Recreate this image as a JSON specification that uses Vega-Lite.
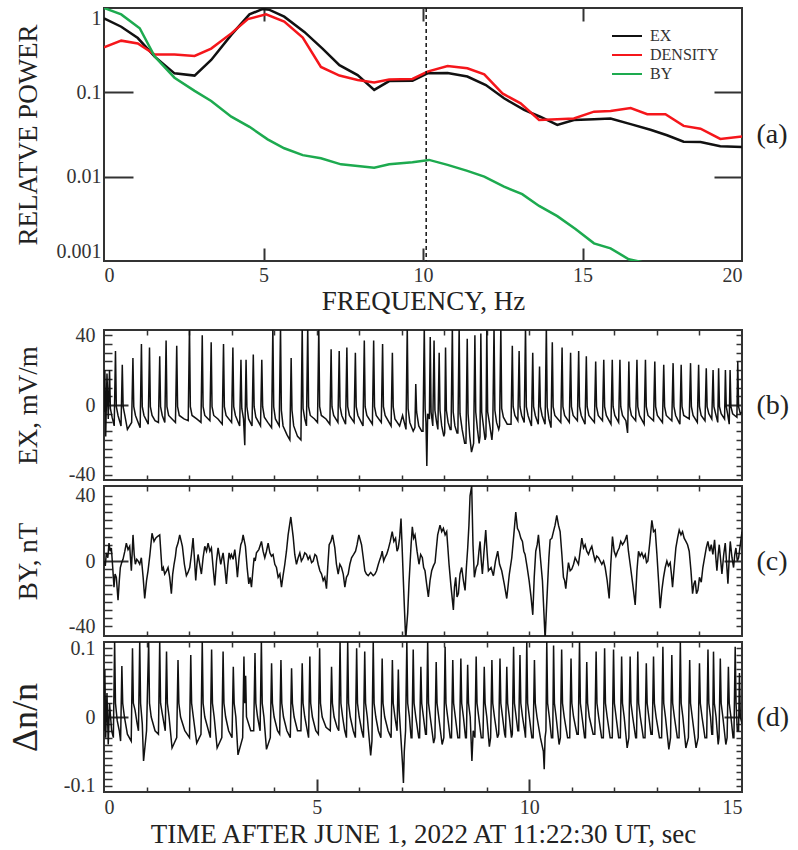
{
"$schema":"https://vega.github.io/schema/vega-lite/v6.json",
"background":"white",
"padding":{"left":6,"top":6,"right":0,"bottom":0},
"config":{
 "font":"Liberation Serif",
 "locale":{"number":{"decimal":".","thousands":",","grouping":[3],"currency":["$",""],"minus":"-"}},
 "view":{"stroke":"#333333","strokeWidth":2},
 "style":{"guide-label":{"font":"Liberation Serif"},"guide-title":{"font":"Liberation Serif"}},
 "axis":{"domain":false,"grid":false,"labelFont":"Liberation Serif","labelFontSize":20,"labelColor":"#333333","titleFont":"Liberation Serif","titleFontSize":27,"titleFontWeight":"normal","titleColor":"#222222","tickColor":"#333333","tickWidth":2},
 "legend":{"labelFont":"Liberation Serif","titleFont":"Liberation Serif"}
},
"datasets":{
"spec":[
{"f":0,"p":0.755,"s":"EX"},{"f":0.54,"p":0.6,"s":"EX"},{"f":1.06,"p":0.44,"s":"EX"},{"f":1.59,"p":0.265,"s":"EX"},{"f":2.21,"p":0.168,"s":"EX"},{"f":2.84,"p":0.158,"s":"EX"},{"f":3.36,"p":0.242,"s":"EX"},{"f":3.99,"p":0.48,"s":"EX"},{"f":4.56,"p":0.84,"s":"EX"},{"f":4.98,"p":0.975,"s":"EX"},{"f":5.19,"p":0.95,"s":"EX"},{"f":5.65,"p":0.79,"s":"EX"},{"f":6.28,"p":0.52,"s":"EX"},{"f":6.85,"p":0.33,"s":"EX"},{"f":7.38,"p":0.21,"s":"EX"},{"f":7.95,"p":0.16,"s":"EX"},{"f":8.47,"p":0.107,"s":"EX"},{"f":8.94,"p":0.136,"s":"EX"},{"f":9.67,"p":0.137,"s":"EX"},{"f":10.14,"p":0.168,"s":"EX"},{"f":10.77,"p":0.17,"s":"EX"},{"f":11.39,"p":0.154,"s":"EX"},{"f":11.97,"p":0.122,"s":"EX"},{"f":12.54,"p":0.085,"s":"EX"},{"f":13.17,"p":0.062,"s":"EX"},{"f":13.69,"p":0.051,"s":"EX"},{"f":14.21,"p":0.041,"s":"EX"},{"f":14.73,"p":0.047,"s":"EX"},{"f":15.36,"p":0.048,"s":"EX"},{"f":15.88,"p":0.049,"s":"EX"},{"f":16.51,"p":0.042,"s":"EX"},{"f":17.13,"p":0.036,"s":"EX"},{"f":17.65,"p":0.031,"s":"EX"},{"f":18.17,"p":0.026,"s":"EX"},{"f":18.7,"p":0.0257,"s":"EX"},{"f":19.32,"p":0.023,"s":"EX"},{"f":20,"p":0.0225,"s":"EX"},
{"f":0,"p":0.342,"s":"DENSITY"},{"f":0.54,"p":0.41,"s":"DENSITY"},{"f":1.06,"p":0.38,"s":"DENSITY"},{"f":1.59,"p":0.28,"s":"DENSITY"},{"f":2.21,"p":0.28,"s":"DENSITY"},{"f":2.84,"p":0.27,"s":"DENSITY"},{"f":3.36,"p":0.33,"s":"DENSITY"},{"f":3.99,"p":0.5,"s":"DENSITY"},{"f":4.51,"p":0.74,"s":"DENSITY"},{"f":5.08,"p":0.84,"s":"DENSITY"},{"f":5.65,"p":0.69,"s":"DENSITY"},{"f":6.23,"p":0.445,"s":"DENSITY"},{"f":6.8,"p":0.2,"s":"DENSITY"},{"f":7.38,"p":0.158,"s":"DENSITY"},{"f":7.95,"p":0.14,"s":"DENSITY"},{"f":8.47,"p":0.131,"s":"DENSITY"},{"f":8.94,"p":0.142,"s":"DENSITY"},{"f":9.67,"p":0.144,"s":"DENSITY"},{"f":10.14,"p":0.176,"s":"DENSITY"},{"f":10.77,"p":0.205,"s":"DENSITY"},{"f":11.39,"p":0.193,"s":"DENSITY"},{"f":11.92,"p":0.163,"s":"DENSITY"},{"f":12.49,"p":0.097,"s":"DENSITY"},{"f":13.06,"p":0.074,"s":"DENSITY"},{"f":13.64,"p":0.047,"s":"DENSITY"},{"f":14.21,"p":0.048,"s":"DENSITY"},{"f":14.73,"p":0.049,"s":"DENSITY"},{"f":15.36,"p":0.059,"s":"DENSITY"},{"f":15.88,"p":0.06,"s":"DENSITY"},{"f":16.51,"p":0.065,"s":"DENSITY"},{"f":17.03,"p":0.055,"s":"DENSITY"},{"f":17.6,"p":0.055,"s":"DENSITY"},{"f":18.17,"p":0.04,"s":"DENSITY"},{"f":18.7,"p":0.037,"s":"DENSITY"},{"f":19.32,"p":0.028,"s":"DENSITY"},{"f":20,"p":0.03,"s":"DENSITY"},
{"f":0,"p":1.0,"s":"BY"},{"f":0.54,"p":0.84,"s":"BY"},{"f":1.12,"p":0.575,"s":"BY"},{"f":1.59,"p":0.265,"s":"BY"},{"f":2.21,"p":0.149,"s":"BY"},{"f":2.84,"p":0.104,"s":"BY"},{"f":3.36,"p":0.079,"s":"BY"},{"f":3.99,"p":0.0515,"s":"BY"},{"f":4.56,"p":0.039,"s":"BY"},{"f":5.13,"p":0.0277,"s":"BY"},{"f":5.65,"p":0.0217,"s":"BY"},{"f":6.23,"p":0.018,"s":"BY"},{"f":6.8,"p":0.0165,"s":"BY"},{"f":7.43,"p":0.014,"s":"BY"},{"f":7.95,"p":0.0134,"s":"BY"},{"f":8.47,"p":0.0128,"s":"BY"},{"f":8.94,"p":0.014,"s":"BY"},{"f":9.67,"p":0.0148,"s":"BY"},{"f":10.19,"p":0.0158,"s":"BY"},{"f":10.77,"p":0.0138,"s":"BY"},{"f":11.39,"p":0.0117,"s":"BY"},{"f":11.92,"p":0.01,"s":"BY"},{"f":12.54,"p":0.0076,"s":"BY"},{"f":13.11,"p":0.0062,"s":"BY"},{"f":13.64,"p":0.0045,"s":"BY"},{"f":14.21,"p":0.0034,"s":"BY"},{"f":14.78,"p":0.0024,"s":"BY"},{"f":15.36,"p":0.00162,"s":"BY"},{"f":15.88,"p":0.00141,"s":"BY"},{"f":16.45,"p":0.00105,"s":"BY"},{"f":16.97,"p":0.00095,"s":"BY"},{"f":17.5,"p":0.0007,"s":"BY"}
],
"ex":[
{"t":0,"v":-4},{"t":0.02,"v":20},{"t":0.04,"v":-18},{"t":0.07,"v":18},{"t":0.1,"v":-8},{"t":0.13,"v":20},{"t":0.15,"v":-2},{"t":0.19,"v":-7},
{"t":0.24,"v":-12},{"t":0.27,"v":31},{"t":0.29,"v":-1},{"t":0.33,"v":-6},
{"t":0.4,"v":-12},{"t":0.43,"v":23},{"t":0.45,"v":-1},{"t":0.49,"v":-6},{"t":0.55,"v":-14},
{"t":0.65,"v":-10},{"t":0.68,"v":27},{"t":0.7,"v":-1},{"t":0.74,"v":-6},
{"t":0.85,"v":-13},{"t":0.88,"v":35},{"t":0.9,"v":-1},{"t":0.94,"v":-6},
{"t":1.04,"v":-11},{"t":1.07,"v":33},{"t":1.09,"v":-1},{"t":1.13,"v":-6},{"t":1.2,"v":-9},
{"t":1.28,"v":-10},{"t":1.31,"v":28},{"t":1.33,"v":-1},{"t":1.37,"v":-6},
{"t":1.43,"v":-10},{"t":1.46,"v":37},{"t":1.48,"v":-1},{"t":1.52,"v":-6},{"t":1.6,"v":-8},
{"t":1.68,"v":-10},{"t":1.71,"v":34},{"t":1.73,"v":-1},{"t":1.77,"v":-6},{"t":1.88,"v":-8},
{"t":1.98,"v":-9},{"t":2.01,"v":45},{"t":2.03,"v":-1},{"t":2.07,"v":-6},{"t":2.18,"v":-8},
{"t":2.28,"v":-10},{"t":2.31,"v":40},{"t":2.33,"v":-1},{"t":2.37,"v":-6},
{"t":2.49,"v":-9},{"t":2.52,"v":36},{"t":2.54,"v":-1},{"t":2.58,"v":-6},{"t":2.68,"v":-8},
{"t":2.78,"v":-11},{"t":2.81,"v":35},{"t":2.83,"v":-1},{"t":2.87,"v":-6},
{"t":3.0,"v":-10},{"t":3.03,"v":33},{"t":3.05,"v":-1},{"t":3.09,"v":-6},
{"t":3.19,"v":-12},{"t":3.22,"v":26},{"t":3.24,"v":-2},{"t":3.28,"v":-8},{"t":3.31,"v":-23},{"t":3.32,"v":-5},
{"t":3.34,"v":26},{"t":3.36,"v":-1},{"t":3.4,"v":-8},
{"t":3.48,"v":-12},{"t":3.51,"v":29},{"t":3.53,"v":-1},{"t":3.57,"v":-7},
{"t":3.68,"v":-12},{"t":3.71,"v":26},{"t":3.73,"v":-1},{"t":3.77,"v":-7},{"t":3.85,"v":-10},
{"t":3.94,"v":-13},{"t":3.97,"v":45},{"t":3.99,"v":-1},{"t":4.03,"v":-8},
{"t":4.12,"v":-12},{"t":4.15,"v":45},{"t":4.17,"v":-3},{"t":4.21,"v":-12},{"t":4.3,"v":-17},
{"t":4.37,"v":-20},{"t":4.4,"v":27},{"t":4.42,"v":-3},{"t":4.46,"v":-12},{"t":4.55,"v":-18},
{"t":4.63,"v":-20},{"t":4.66,"v":45},{"t":4.68,"v":-2},{"t":4.72,"v":-8},
{"t":4.76,"v":-12},{"t":4.79,"v":45},{"t":4.81,"v":-1},{"t":4.85,"v":-6},{"t":4.95,"v":-8},
{"t":5.02,"v":-10},{"t":5.05,"v":45},{"t":5.07,"v":-1},{"t":5.11,"v":-6},{"t":5.22,"v":-8},
{"t":5.31,"v":-11},{"t":5.34,"v":32},{"t":5.36,"v":-1},{"t":5.4,"v":-6},
{"t":5.5,"v":-10},{"t":5.53,"v":31},{"t":5.55,"v":-1},{"t":5.59,"v":-6},
{"t":5.68,"v":-11},{"t":5.71,"v":33},{"t":5.73,"v":-1},{"t":5.77,"v":-6},
{"t":5.88,"v":-10},{"t":5.91,"v":30},{"t":5.93,"v":-1},{"t":5.97,"v":-6},
{"t":6.09,"v":-12},{"t":6.12,"v":37},{"t":6.14,"v":-1},{"t":6.18,"v":-6},
{"t":6.31,"v":-11},{"t":6.34,"v":37},{"t":6.36,"v":-1},{"t":6.4,"v":-6},
{"t":6.52,"v":-10},{"t":6.55,"v":35},{"t":6.57,"v":-1},{"t":6.61,"v":-6},
{"t":6.75,"v":-12},{"t":6.78,"v":30},{"t":6.8,"v":-1},{"t":6.84,"v":-8},{"t":6.95,"v":-12},{"t":7.02,"v":-6},
{"t":7.1,"v":-14},{"t":7.13,"v":45},{"t":7.15,"v":-2},{"t":7.19,"v":-10},{"t":7.27,"v":-15},
{"t":7.31,"v":-13},{"t":7.33,"v":12},{"t":7.35,"v":-4},{"t":7.4,"v":-12},{"t":7.47,"v":-15},
{"t":7.5,"v":-15},{"t":7.53,"v":45},{"t":7.55,"v":-2},{"t":7.57,"v":-10},{"t":7.59,"v":-35},{"t":7.61,"v":-5},
{"t":7.65,"v":-8},{"t":7.67,"v":39},{"t":7.69,"v":-4},
{"t":7.73,"v":-12},{"t":7.76,"v":37},{"t":7.78,"v":-3},{"t":7.82,"v":-10},
{"t":7.85,"v":-14},{"t":7.88,"v":30},{"t":7.9,"v":-3},{"t":7.94,"v":-12},{"t":7.99,"v":-18},
{"t":8.01,"v":-16},{"t":8.03,"v":33},{"t":8.05,"v":-3},{"t":8.09,"v":-10},{"t":8.14,"v":-14},
{"t":8.16,"v":-14},{"t":8.19,"v":45},{"t":8.21,"v":-4},{"t":8.25,"v":-12},{"t":8.3,"v":-16},
{"t":8.32,"v":-16},{"t":8.35,"v":45},{"t":8.37,"v":-5},{"t":8.42,"v":-14},{"t":8.48,"v":-22},
{"t":8.51,"v":-22},{"t":8.54,"v":38},{"t":8.56,"v":-5},{"t":8.6,"v":-18},{"t":8.64,"v":-27},
{"t":8.69,"v":-22},{"t":8.72,"v":40},{"t":8.74,"v":-4},{"t":8.78,"v":-14},{"t":8.82,"v":-22},
{"t":8.84,"v":-18},{"t":8.86,"v":41},{"t":8.88,"v":-4},{"t":8.92,"v":-12},{"t":8.96,"v":-20},
{"t":8.98,"v":-18},{"t":9.0,"v":45},{"t":9.02,"v":-4},{"t":9.06,"v":-10},{"t":9.12,"v":-20},
{"t":9.14,"v":-14},{"t":9.17,"v":45},{"t":9.19,"v":-3},{"t":9.23,"v":-10},{"t":9.28,"v":-14},
{"t":9.3,"v":-12},{"t":9.33,"v":45},{"t":9.35,"v":-2},{"t":9.39,"v":-7},{"t":9.48,"v":-11},
{"t":9.57,"v":-11},{"t":9.6,"v":34},{"t":9.62,"v":-1},{"t":9.66,"v":-6},
{"t":9.73,"v":-9},{"t":9.76,"v":31},{"t":9.78,"v":-1},{"t":9.82,"v":-6},
{"t":9.88,"v":-10},{"t":9.91,"v":45},{"t":9.93,"v":-1},{"t":9.97,"v":-6},
{"t":10.05,"v":-12},{"t":10.08,"v":30},{"t":10.1,"v":-1},{"t":10.14,"v":-6},
{"t":10.21,"v":-11},{"t":10.24,"v":22},{"t":10.26,"v":-1},{"t":10.3,"v":-6},
{"t":10.37,"v":-11},{"t":10.4,"v":45},{"t":10.42,"v":-1},{"t":10.46,"v":-8},
{"t":10.51,"v":-13},{"t":10.54,"v":36},{"t":10.56,"v":-1},{"t":10.6,"v":-6},
{"t":10.74,"v":-10},{"t":10.77,"v":33},{"t":10.79,"v":-1},{"t":10.83,"v":-6},
{"t":10.94,"v":-10},{"t":10.97,"v":30},{"t":10.99,"v":-1},{"t":11.03,"v":-6},
{"t":11.13,"v":-9},{"t":11.16,"v":31},{"t":11.18,"v":-1},{"t":11.22,"v":-6},
{"t":11.31,"v":-11},{"t":11.34,"v":28},{"t":11.36,"v":-1},{"t":11.4,"v":-6},
{"t":11.53,"v":-10},{"t":11.56,"v":25},{"t":11.58,"v":-1},{"t":11.62,"v":-6},
{"t":11.72,"v":-9},{"t":11.75,"v":26},{"t":11.77,"v":-1},{"t":11.81,"v":-6},
{"t":11.92,"v":-11},{"t":11.95,"v":26},{"t":11.97,"v":-1},{"t":12.01,"v":-6},
{"t":12.1,"v":-10},{"t":12.13,"v":26},{"t":12.15,"v":-1},{"t":12.19,"v":-6},{"t":12.27,"v":-9},{"t":12.31,"v":-16},
{"t":12.32,"v":-6},{"t":12.34,"v":25},{"t":12.36,"v":-1},{"t":12.4,"v":-6},
{"t":12.5,"v":-9},{"t":12.53,"v":26},{"t":12.55,"v":-1},{"t":12.59,"v":-6},
{"t":12.7,"v":-11},{"t":12.73,"v":26},{"t":12.75,"v":-1},{"t":12.79,"v":-6},
{"t":12.92,"v":-9},{"t":12.95,"v":25},{"t":12.97,"v":-1},{"t":13.01,"v":-6},
{"t":13.13,"v":-10},{"t":13.16,"v":23},{"t":13.18,"v":-1},{"t":13.22,"v":-6},
{"t":13.35,"v":-9},{"t":13.38,"v":24},{"t":13.4,"v":-1},{"t":13.44,"v":-6},
{"t":13.54,"v":-11},{"t":13.57,"v":23},{"t":13.59,"v":-1},{"t":13.63,"v":-6},
{"t":13.76,"v":-8},{"t":13.79,"v":24},{"t":13.81,"v":-1},{"t":13.85,"v":-6},
{"t":13.95,"v":-10},{"t":13.98,"v":23},{"t":14.0,"v":-1},{"t":14.04,"v":-6},
{"t":14.13,"v":-9},{"t":14.16,"v":21},{"t":14.18,"v":-1},{"t":14.22,"v":-5},
{"t":14.29,"v":-8},{"t":14.32,"v":20},{"t":14.34,"v":-1},{"t":14.38,"v":-5},
{"t":14.43,"v":-10},{"t":14.45,"v":21},{"t":14.47,"v":-1},{"t":14.51,"v":-5},
{"t":14.59,"v":-8},{"t":14.61,"v":20},{"t":14.63,"v":-1},{"t":14.66,"v":-5},
{"t":14.7,"v":-11},{"t":14.72,"v":20},{"t":14.74,"v":-1},{"t":14.78,"v":-5},
{"t":14.88,"v":-7},{"t":14.9,"v":25},{"t":14.92,"v":-1},{"t":14.96,"v":-5},{"t":15.0,"v":-4}
],
"by":[
{"t":0,"v":0},{"t":0.03,"v":-3},{"t":0.055,"v":5},{"t":0.09,"v":2},{"t":0.118,"v":11},{"t":0.145,"v":6},{"t":0.173,"v":8},{"t":0.205,"v":-4},{"t":0.235,"v":-16},{"t":0.26,"v":-8},{"t":0.29,"v":-10},{"t":0.33,"v":-24},{"t":0.36,"v":-12},{"t":0.384,"v":-4},{"t":0.415,"v":-1},{"t":0.447,"v":1},{"t":0.49,"v":6},{"t":0.525,"v":11},{"t":0.565,"v":7},{"t":0.604,"v":9},{"t":0.643,"v":-6},{"t":0.682,"v":16},{"t":0.71,"v":4},{"t":0.737,"v":-2},{"t":0.77,"v":1},{"t":0.8,"v":0},{"t":0.84,"v":-2},{"t":0.878,"v":2},{"t":0.92,"v":-10},{"t":0.957,"v":-23},{"t":1.0,"v":-12},{"t":1.035,"v":-6},{"t":1.08,"v":4},{"t":1.129,"v":17},{"t":1.176,"v":12},{"t":1.215,"v":14},{"t":1.255,"v":15},{"t":1.31,"v":16},{"t":1.365,"v":-6},{"t":1.395,"v":-4},{"t":1.427,"v":-8},{"t":1.47,"v":-6},{"t":1.506,"v":-4},{"t":1.545,"v":-10},{"t":1.584,"v":-20},{"t":1.615,"v":-8},{"t":1.647,"v":-2},{"t":1.68,"v":3},{"t":1.702,"v":8},{"t":1.74,"v":11},{"t":1.78,"v":16},{"t":1.843,"v":9},{"t":1.89,"v":-2},{"t":1.937,"v":-9},{"t":1.975,"v":-7},{"t":2.016,"v":-4},{"t":2.055,"v":4},{"t":2.094,"v":14},{"t":2.125,"v":2},{"t":2.157,"v":-12},{"t":2.185,"v":-2},{"t":2.212,"v":4},{"t":2.25,"v":-2},{"t":2.29,"v":-8},{"t":2.33,"v":2},{"t":2.369,"v":9},{"t":2.41,"v":6},{"t":2.447,"v":11},{"t":2.49,"v":6},{"t":2.525,"v":8},{"t":2.565,"v":-4},{"t":2.604,"v":-15},{"t":2.645,"v":0},{"t":2.682,"v":8},{"t":2.715,"v":3},{"t":2.745,"v":-2},{"t":2.775,"v":2},{"t":2.8,"v":5},{"t":2.84,"v":-4},{"t":2.878,"v":-14},{"t":2.91,"v":-3},{"t":2.941,"v":5},{"t":2.97,"v":2},{"t":2.996,"v":4},{"t":3.035,"v":1},{"t":3.075,"v":7},{"t":3.105,"v":0},{"t":3.137,"v":-10},{"t":3.175,"v":2},{"t":3.216,"v":10},{"t":3.245,"v":12},{"t":3.271,"v":16},{"t":3.325,"v":9},{"t":3.365,"v":-4},{"t":3.404,"v":-14},{"t":3.435,"v":-10},{"t":3.467,"v":-16},{"t":3.5,"v":-6},{"t":3.529,"v":2},{"t":3.555,"v":0},{"t":3.584,"v":5},{"t":3.64,"v":7},{"t":3.702,"v":12},{"t":3.74,"v":6},{"t":3.78,"v":2},{"t":3.82,"v":6},{"t":3.859,"v":11},{"t":3.9,"v":5},{"t":3.937,"v":3},{"t":3.975,"v":4},{"t":4.016,"v":-2},{"t":4.055,"v":-4},{"t":4.094,"v":-10},{"t":4.135,"v":-8},{"t":4.173,"v":-16},{"t":4.21,"v":-9},{"t":4.251,"v":-2},{"t":4.29,"v":6},{"t":4.329,"v":16},{"t":4.392,"v":27},{"t":4.447,"v":15},{"t":4.485,"v":4},{"t":4.525,"v":-2},{"t":4.565,"v":2},{"t":4.604,"v":5},{"t":4.64,"v":0},{"t":4.682,"v":2},{"t":4.72,"v":5},{"t":4.761,"v":4},{"t":4.8,"v":1},{"t":4.839,"v":3},{"t":4.88,"v":-1},{"t":4.918,"v":0},{"t":4.96,"v":4},{"t":4.996,"v":3},{"t":5.035,"v":-2},{"t":5.075,"v":-6},{"t":5.115,"v":-8},{"t":5.153,"v":-12},{"t":5.19,"v":-10},{"t":5.231,"v":-17},{"t":5.26,"v":-4},{"t":5.294,"v":10},{"t":5.335,"v":12},{"t":5.373,"v":16},{"t":5.427,"v":8},{"t":5.465,"v":-2},{"t":5.506,"v":-8},{"t":5.545,"v":-2},{"t":5.584,"v":-4},{"t":5.625,"v":-8},{"t":5.663,"v":-16},{"t":5.7,"v":-10},{"t":5.741,"v":-8},{"t":5.78,"v":-2},{"t":5.82,"v":2},{"t":5.87,"v":4},{"t":5.914,"v":6},{"t":5.95,"v":10},{"t":5.992,"v":16},{"t":6.055,"v":10},{"t":6.095,"v":2},{"t":6.133,"v":-6},{"t":6.17,"v":-8},{"t":6.212,"v":-9},{"t":6.27,"v":-7},{"t":6.329,"v":-9},{"t":6.37,"v":-8},{"t":6.408,"v":-6},{"t":6.45,"v":-2},{"t":6.486,"v":1},{"t":6.515,"v":3},{"t":6.541,"v":6},{"t":6.575,"v":0},{"t":6.604,"v":2},{"t":6.645,"v":4},{"t":6.682,"v":7},{"t":6.73,"v":12},{"t":6.776,"v":18},{"t":6.815,"v":12},{"t":6.855,"v":14},{"t":6.89,"v":6},{"t":6.918,"v":8},
{"t":6.95,"v":14},{"t":6.983,"v":26},{"t":7.01,"v":8},{"t":7.038,"v":-12},{"t":7.065,"v":-30},{"t":7.093,"v":-48},{"t":7.14,"v":-32},{"t":7.17,"v":-14},{"t":7.195,"v":-2},{"t":7.22,"v":10},{"t":7.249,"v":21},{"t":7.28,"v":14},{"t":7.312,"v":16},{"t":7.36,"v":6},{"t":7.406,"v":-2},{"t":7.445,"v":4},{"t":7.485,"v":2},{"t":7.515,"v":-4},{"t":7.547,"v":-6},{"t":7.585,"v":-14},{"t":7.626,"v":-22},{"t":7.665,"v":-12},{"t":7.704,"v":-6},{"t":7.745,"v":-3},{"t":7.783,"v":-1},{"t":7.815,"v":8},{"t":7.845,"v":16},{"t":7.9,"v":22},{"t":7.94,"v":18},{"t":7.979,"v":20},{"t":8.02,"v":16},{"t":8.057,"v":18},{"t":8.085,"v":8},{"t":8.112,"v":-2},{"t":8.16,"v":-16},{"t":8.214,"v":-30},{"t":8.24,"v":-16},{"t":8.269,"v":-10},{"t":8.3,"v":-22},{"t":8.332,"v":-20},{"t":8.37,"v":-8},{"t":8.41,"v":-4},{"t":8.45,"v":-12},{"t":8.489,"v":-18},{"t":8.52,"v":-4},{"t":8.551,"v":8},{"t":8.58,"v":22},{"t":8.606,"v":40},{"t":8.645,"v":46},{"t":8.675,"v":10},{"t":8.708,"v":-10},{"t":8.75,"v":-4},{"t":8.787,"v":-2},{"t":8.815,"v":6},{"t":8.842,"v":12},{"t":8.87,"v":0},{"t":8.896,"v":-8},{"t":8.935,"v":6},{"t":8.975,"v":19},{"t":9.005,"v":6},{"t":9.038,"v":-6},{"t":9.1,"v":-4},{"t":9.155,"v":-9},{"t":9.205,"v":0},{"t":9.257,"v":6},{"t":9.3,"v":-2},{"t":9.351,"v":-6},{"t":9.41,"v":-14},{"t":9.469,"v":-23},{"t":9.53,"v":-8},{"t":9.587,"v":2},{"t":9.635,"v":16},{"t":9.681,"v":30},{"t":9.72,"v":20},{"t":9.759,"v":18},{"t":9.8,"v":14},{"t":9.838,"v":12},{"t":9.87,"v":6},{"t":9.9,"v":4},{"t":9.95,"v":-4},{"t":9.995,"v":-12},{"t":10.04,"v":-22},{"t":10.081,"v":-33},{"t":10.115,"v":-10},{"t":10.151,"v":6},{"t":10.185,"v":10},{"t":10.214,"v":16},{"t":10.26,"v":2},{"t":10.308,"v":-12},{"t":10.34,"v":-30},{"t":10.371,"v":-48},{"t":10.405,"v":-28},{"t":10.434,"v":-12},{"t":10.46,"v":2},{"t":10.489,"v":13},{"t":10.53,"v":14},{"t":10.567,"v":18},{"t":10.605,"v":22},{"t":10.645,"v":28},{"t":10.685,"v":22},{"t":10.724,"v":18},{"t":10.765,"v":4},{"t":10.802,"v":-10},{"t":10.83,"v":-12},{"t":10.857,"v":-17},{"t":10.89,"v":-8},{"t":10.92,"v":-1},{"t":10.96,"v":-6},{"t":10.998,"v":-5},{"t":11.04,"v":-2},{"t":11.077,"v":2},{"t":11.115,"v":0},{"t":11.155,"v":-2},{"t":11.195,"v":6},{"t":11.234,"v":14},{"t":11.275,"v":8},{"t":11.312,"v":10},{"t":11.35,"v":6},{"t":11.391,"v":4},{"t":11.43,"v":7},{"t":11.469,"v":9},{"t":11.51,"v":4},{"t":11.547,"v":0},{"t":11.585,"v":3},{"t":11.626,"v":2},{"t":11.665,"v":0},{"t":11.704,"v":-2},{"t":11.745,"v":0},{"t":11.783,"v":-4},{"t":11.83,"v":-12},{"t":11.877,"v":-23},{"t":11.915,"v":-2},{"t":11.955,"v":15},{"t":11.995,"v":6},{"t":12.034,"v":3},{"t":12.075,"v":6},{"t":12.112,"v":8},{"t":12.15,"v":12},{"t":12.191,"v":10},{"t":12.24,"v":12},{"t":12.293,"v":16},{"t":12.33,"v":6},{"t":12.371,"v":-2},{"t":12.43,"v":-14},{"t":12.489,"v":-27},{"t":12.53,"v":-6},{"t":12.567,"v":6},{"t":12.605,"v":3},{"t":12.645,"v":5},{"t":12.685,"v":2},{"t":12.724,"v":4},{"t":12.755,"v":-1},{"t":12.787,"v":0},{"t":12.835,"v":12},{"t":12.881,"v":25},{"t":12.92,"v":18},{"t":12.959,"v":19},{"t":13.0,"v":4},{"t":13.038,"v":-12},{"t":13.077,"v":-29},{"t":13.115,"v":-18},{"t":13.155,"v":-10},{"t":13.195,"v":-4},{"t":13.234,"v":0},{"t":13.27,"v":-3},{"t":13.312,"v":-1},{"t":13.34,"v":-8},{"t":13.367,"v":-16},{"t":13.405,"v":-4},{"t":13.445,"v":8},{"t":13.485,"v":14},{"t":13.524,"v":19},{"t":13.565,"v":16},{"t":13.602,"v":18},{"t":13.64,"v":14},{"t":13.681,"v":12},{"t":13.72,"v":10},{"t":13.759,"v":6},{"t":13.8,"v":-6},{"t":13.838,"v":-20},{"t":13.87,"v":-14},{"t":13.9,"v":-12},{"t":13.93,"v":-20},{"t":13.963,"v":-18},{"t":14.0,"v":-10},{"t":14.042,"v":-13},{"t":14.08,"v":-4},{"t":14.12,"v":2},{"t":14.16,"v":8},{"t":14.198,"v":12},{"t":14.24,"v":6},{"t":14.277,"v":10},{"t":14.315,"v":4},{"t":14.355,"v":13},{"t":14.385,"v":2},{"t":14.41,"v":-6},{"t":14.44,"v":4},{"t":14.465,"v":10},{"t":14.5,"v":0},{"t":14.528,"v":-8},{"t":14.57,"v":4},{"t":14.606,"v":11},{"t":14.64,"v":-2},{"t":14.669,"v":-14},{"t":14.7,"v":2},{"t":14.724,"v":12},{"t":14.765,"v":2},{"t":14.802,"v":-4},{"t":14.83,"v":4},{"t":14.857,"v":8},{"t":14.89,"v":0},{"t":14.92,"v":2},{"t":14.96,"v":10},{"t":15.0,"v":18}
],
"dn":[
{"t":0,"v":-0.02},{"t":0.02,"v":0.069},{"t":0.04,"v":-0.03},{"t":0.07,"v":0.035},{"t":0.1,"v":-0.04},{"t":0.13,"v":0.02},{"t":0.18,"v":-0.02},
{"t":0.22,"v":-0.03},{"t":0.25,"v":0.11},{"t":0.27,"v":0.02},{"t":0.31,"v":-0.005},{"t":0.36,"v":-0.02},
{"t":0.39,"v":-0.035},{"t":0.42,"v":0.074},{"t":0.44,"v":0.02},{"t":0.48,"v":0},{"t":0.55,"v":-0.025},
{"t":0.64,"v":-0.035},{"t":0.67,"v":0.1},{"t":0.69,"v":0.02},{"t":0.73,"v":0.01},{"t":0.78,"v":-0.01},
{"t":0.81,"v":-0.02},{"t":0.84,"v":0.11},{"t":0.86,"v":0.02},{"t":0.9,"v":-0.01},{"t":0.93,"v":-0.064},
{"t":1.0,"v":-0.02},{"t":1.05,"v":0.11},{"t":1.07,"v":0.02},{"t":1.11,"v":0},{"t":1.2,"v":-0.02},
{"t":1.28,"v":-0.025},{"t":1.31,"v":0.11},{"t":1.33,"v":0.02},{"t":1.37,"v":0.005},
{"t":1.44,"v":-0.02},{"t":1.47,"v":0.095},{"t":1.49,"v":0.02},{"t":1.53,"v":0},{"t":1.6,"v":-0.045},
{"t":1.71,"v":-0.03},{"t":1.74,"v":0.083},{"t":1.76,"v":0.02},{"t":1.8,"v":0},{"t":1.9,"v":-0.02},
{"t":2.01,"v":-0.03},{"t":2.04,"v":0.09},{"t":2.06,"v":0.02},{"t":2.1,"v":0},{"t":2.18,"v":-0.038},
{"t":2.28,"v":-0.025},{"t":2.31,"v":0.11},{"t":2.33,"v":0.02},{"t":2.37,"v":0},
{"t":2.5,"v":-0.03},{"t":2.53,"v":0.098},{"t":2.55,"v":0.02},{"t":2.59,"v":0},{"t":2.66,"v":-0.045},
{"t":2.77,"v":-0.03},{"t":2.8,"v":0.095},{"t":2.82,"v":0.02},{"t":2.86,"v":0},{"t":2.93,"v":-0.02},
{"t":3.01,"v":-0.03},{"t":3.04,"v":0.073},{"t":3.06,"v":0.02},{"t":3.1,"v":0},{"t":3.15,"v":-0.055},
{"t":3.26,"v":-0.03},{"t":3.29,"v":0.088},{"t":3.31,"v":0.02},{"t":3.33,"v":0.06},{"t":3.35,"v":0},
{"t":3.45,"v":-0.02},{"t":3.52,"v":-0.02},{"t":3.55,"v":0.093},{"t":3.57,"v":0.02},{"t":3.61,"v":0},
{"t":3.67,"v":-0.02},{"t":3.7,"v":0.11},{"t":3.72,"v":0.02},{"t":3.76,"v":0},{"t":3.82,"v":-0.047},
{"t":3.91,"v":-0.03},{"t":3.94,"v":0.078},{"t":3.96,"v":0.02},{"t":4.0,"v":0},{"t":4.08,"v":-0.02},
{"t":4.13,"v":-0.025},{"t":4.16,"v":0.083},{"t":4.18,"v":0.02},{"t":4.22,"v":0},{"t":4.3,"v":-0.02},
{"t":4.38,"v":-0.03},{"t":4.41,"v":0.071},{"t":4.43,"v":0.02},{"t":4.47,"v":0},{"t":4.55,"v":-0.02},
{"t":4.63,"v":-0.02},{"t":4.66,"v":0.078},{"t":4.68,"v":0.02},{"t":4.72,"v":0},
{"t":4.81,"v":-0.03},{"t":4.84,"v":0.088},{"t":4.86,"v":0.02},{"t":4.9,"v":0},{"t":4.98,"v":-0.02},
{"t":5.04,"v":-0.025},{"t":5.07,"v":0.1},{"t":5.09,"v":0.02},{"t":5.13,"v":0},{"t":5.22,"v":-0.015},
{"t":5.32,"v":-0.02},{"t":5.35,"v":0.073},{"t":5.37,"v":0.02},{"t":5.41,"v":0},{"t":5.48,"v":-0.015},
{"t":5.52,"v":-0.02},{"t":5.55,"v":0.11},{"t":5.57,"v":0.02},{"t":5.61,"v":0},{"t":5.66,"v":-0.02},
{"t":5.7,"v":-0.03},{"t":5.73,"v":0.11},{"t":5.75,"v":0.02},{"t":5.79,"v":0},{"t":5.86,"v":-0.02},
{"t":5.91,"v":-0.03},{"t":5.94,"v":0.1},{"t":5.96,"v":0.02},{"t":6.0,"v":0},{"t":6.06,"v":-0.02},
{"t":6.1,"v":-0.03},{"t":6.13,"v":0.095},{"t":6.15,"v":0.02},{"t":6.19,"v":0},{"t":6.27,"v":-0.056},
{"t":6.3,"v":-0.035},{"t":6.33,"v":0.11},{"t":6.35,"v":0.02},{"t":6.39,"v":0},{"t":6.45,"v":-0.02},
{"t":6.51,"v":-0.03},{"t":6.54,"v":0.085},{"t":6.56,"v":0.02},{"t":6.6,"v":0},{"t":6.68,"v":-0.02},
{"t":6.75,"v":-0.03},{"t":6.78,"v":0.083},{"t":6.8,"v":0.02},{"t":6.84,"v":0},
{"t":6.89,"v":-0.02},{"t":6.92,"v":0.069},{"t":6.94,"v":0.01},{"t":6.98,"v":-0.03},{"t":7.02,"v":-0.07},{"t":7.04,"v":-0.096},{"t":7.06,"v":-0.05},{"t":7.09,"v":-0.02},
{"t":7.12,"v":0.11},{"t":7.14,"v":0.02},{"t":7.18,"v":0},{"t":7.22,"v":-0.03},
{"t":7.24,"v":-0.03},{"t":7.27,"v":0.098},{"t":7.29,"v":0.02},{"t":7.33,"v":0},{"t":7.4,"v":-0.03},
{"t":7.42,"v":-0.03},{"t":7.45,"v":0.073},{"t":7.47,"v":0.02},{"t":7.51,"v":0},{"t":7.56,"v":-0.025},
{"t":7.58,"v":-0.025},{"t":7.61,"v":0.11},{"t":7.63,"v":0.02},{"t":7.67,"v":0},{"t":7.75,"v":-0.038},
{"t":7.78,"v":-0.03},{"t":7.81,"v":0.08},{"t":7.83,"v":0.02},{"t":7.87,"v":0},{"t":7.95,"v":-0.04},
{"t":7.99,"v":-0.03},{"t":8.02,"v":0.102},{"t":8.04,"v":0.02},{"t":8.08,"v":0},{"t":8.14,"v":-0.03},
{"t":8.17,"v":-0.03},{"t":8.2,"v":0.083},{"t":8.22,"v":0.02},{"t":8.26,"v":0},{"t":8.32,"v":-0.03},
{"t":8.36,"v":-0.03},{"t":8.39,"v":0.085},{"t":8.41,"v":0.02},{"t":8.45,"v":0},{"t":8.5,"v":-0.03},
{"t":8.52,"v":-0.03},{"t":8.55,"v":0.076},{"t":8.57,"v":0.02},{"t":8.61,"v":0},{"t":8.65,"v":-0.064},{"t":8.68,"v":-0.02},
{"t":8.72,"v":-0.03},{"t":8.75,"v":0.088},{"t":8.77,"v":0.02},{"t":8.81,"v":0},{"t":8.87,"v":-0.03},
{"t":8.91,"v":-0.03},{"t":8.94,"v":0.073},{"t":8.96,"v":0.02},{"t":9.0,"v":0},{"t":9.06,"v":-0.043},
{"t":9.09,"v":-0.03},{"t":9.12,"v":0.083},{"t":9.14,"v":0.02},{"t":9.18,"v":0},{"t":9.25,"v":-0.03},
{"t":9.28,"v":-0.025},{"t":9.31,"v":0.085},{"t":9.33,"v":0.02},{"t":9.37,"v":0},{"t":9.42,"v":-0.025},
{"t":9.44,"v":-0.03},{"t":9.47,"v":0.073},{"t":9.49,"v":0.02},{"t":9.53,"v":0},{"t":9.58,"v":-0.03},
{"t":9.6,"v":-0.025},{"t":9.63,"v":0.102},{"t":9.65,"v":0.02},{"t":9.69,"v":0},{"t":9.73,"v":-0.02},
{"t":9.75,"v":-0.02},{"t":9.78,"v":0.09},{"t":9.8,"v":0.02},{"t":9.84,"v":0},{"t":9.89,"v":-0.02},
{"t":9.91,"v":-0.03},{"t":9.94,"v":0.11},{"t":9.96,"v":0.02},{"t":10.0,"v":0},{"t":10.06,"v":-0.03},
{"t":10.09,"v":-0.03},{"t":10.12,"v":0.083},{"t":10.14,"v":0.02},{"t":10.18,"v":0},{"t":10.26,"v":-0.03},{"t":10.33,"v":-0.05},{"t":10.35,"v":-0.076},{"t":10.37,"v":-0.03},
{"t":10.39,"v":-0.02},{"t":10.41,"v":0.11},{"t":10.43,"v":0.02},{"t":10.47,"v":0},{"t":10.52,"v":-0.03},
{"t":10.55,"v":-0.03},{"t":10.57,"v":0.104},{"t":10.59,"v":0.02},{"t":10.63,"v":0},{"t":10.7,"v":-0.04},
{"t":10.73,"v":-0.03},{"t":10.76,"v":0.098},{"t":10.78,"v":0.02},{"t":10.82,"v":0},{"t":10.9,"v":-0.03},
{"t":10.95,"v":-0.03},{"t":10.98,"v":0.085},{"t":11.0,"v":0.02},{"t":11.04,"v":0},{"t":11.12,"v":-0.025},
{"t":11.15,"v":-0.025},{"t":11.18,"v":0.11},{"t":11.2,"v":0.02},{"t":11.24,"v":0},{"t":11.3,"v":-0.03},
{"t":11.32,"v":-0.03},{"t":11.35,"v":0.08},{"t":11.37,"v":0.02},{"t":11.41,"v":0},{"t":11.5,"v":-0.025},
{"t":11.54,"v":-0.025},{"t":11.57,"v":0.095},{"t":11.59,"v":0.02},{"t":11.63,"v":0},{"t":11.7,"v":-0.03},
{"t":11.74,"v":-0.03},{"t":11.77,"v":0.1},{"t":11.79,"v":0.02},{"t":11.83,"v":0},{"t":11.9,"v":-0.03},
{"t":11.95,"v":-0.03},{"t":11.98,"v":0.098},{"t":12.0,"v":0.02},{"t":12.04,"v":0},{"t":12.1,"v":-0.03},
{"t":12.14,"v":-0.03},{"t":12.17,"v":0.088},{"t":12.19,"v":0.02},{"t":12.23,"v":0},{"t":12.3,"v":-0.045},
{"t":12.34,"v":-0.03},{"t":12.37,"v":0.088},{"t":12.39,"v":0.02},{"t":12.43,"v":0},{"t":12.5,"v":-0.03},
{"t":12.52,"v":-0.03},{"t":12.55,"v":0.095},{"t":12.57,"v":0.02},{"t":12.61,"v":0},{"t":12.68,"v":-0.03},
{"t":12.72,"v":-0.03},{"t":12.75,"v":0.078},{"t":12.77,"v":0.02},{"t":12.81,"v":0},{"t":12.86,"v":-0.025},
{"t":12.89,"v":-0.025},{"t":12.92,"v":0.088},{"t":12.94,"v":0.02},{"t":12.98,"v":0},{"t":13.06,"v":-0.03},
{"t":13.11,"v":-0.03},{"t":13.14,"v":0.102},{"t":13.16,"v":0.02},{"t":13.2,"v":0},{"t":13.28,"v":-0.047},
{"t":13.32,"v":-0.03},{"t":13.35,"v":0.09},{"t":13.37,"v":0.02},{"t":13.41,"v":0},{"t":13.48,"v":-0.03},
{"t":13.52,"v":-0.03},{"t":13.55,"v":0.11},{"t":13.57,"v":0.02},{"t":13.61,"v":0},{"t":13.68,"v":-0.045},
{"t":13.74,"v":-0.03},{"t":13.77,"v":0.083},{"t":13.79,"v":0.02},{"t":13.83,"v":0},{"t":13.92,"v":-0.045},
{"t":13.97,"v":-0.03},{"t":14.0,"v":0.078},{"t":14.02,"v":0.02},{"t":14.06,"v":0},{"t":14.13,"v":-0.03},
{"t":14.17,"v":-0.03},{"t":14.2,"v":0.098},{"t":14.22,"v":0.02},{"t":14.26,"v":0},{"t":14.29,"v":-0.025},
{"t":14.31,"v":-0.025},{"t":14.33,"v":0.095},{"t":14.35,"v":0.02},{"t":14.39,"v":0},{"t":14.44,"v":-0.04},
{"t":14.46,"v":-0.03},{"t":14.49,"v":0.085},{"t":14.51,"v":0.02},{"t":14.55,"v":0},{"t":14.62,"v":-0.04},
{"t":14.65,"v":-0.03},{"t":14.68,"v":0.073},{"t":14.7,"v":0.02},{"t":14.74,"v":0},{"t":14.79,"v":-0.03},
{"t":14.81,"v":-0.03},{"t":14.84,"v":0.102},{"t":14.86,"v":0.02},{"t":14.89,"v":-0.02},
{"t":14.92,"v":-0.02},{"t":14.94,"v":0.064},{"t":14.96,"v":0},{"t":15.0,"v":-0.01}
]
},
"vconcat":[
{"width":638,"height":253,
 "layer":[
  {"data":{"name":"spec"},"mark":{"type":"line","strokeWidth":2.5,"clip":true},
   "encoding":{
    "x":{"field":"f","type":"quantitative","scale":{"domain":[0,20],"nice":false},"axis":{"orient":"bottom","values":[0,5,10,15,20],"ticks":false,"labelPadding":4,"labelFont":"Liberation Serif","title":"FREQUENCY, Hz","titlePadding":3}},
    "y":{"field":"p","type":"quantitative","scale":{"type":"log","domain":[0.001,1],"nice":false},"axis":{"orient":"left","values":[0.001,0.01,0.1,1],"format":"~g","ticks":false,"labelPadding":3,"labelFlush":true,"labelFont":"Liberation Serif","title":"RELATVE POWER","titleX":-68,"titleBaseline":"alphabetic"}},
    "color":{"field":"s","type":"nominal","scale":{"domain":["EX","DENSITY","BY"],"range":["#111111","#f5161b","#1daa4f"]},"legend":{"orient":"none","legendX":515,"legendY":20,"title":null,"symbolType":"M-3,0H3","symbolSize":100,"symbolStrokeWidth":2,"labelFont":"Liberation Serif","labelFontSize":16,"labelColor":"#333333","rowPadding":3,"padding":0,"labelOffset":15}}
   }},
  {"data":{"values":[{"f":10.1}]},"mark":{"type":"rule","strokeDash":[4,3],"strokeWidth":1.5,"color":"#111111"},
   "encoding":{"x":{"field":"f","type":"quantitative","scale":{"domain":[0,20],"nice":false},"axis":{"orient":"bottom","values":[5,10,15],"labels":false,"tickSize":-13,"title":null}}}},
  {"data":{"values":[{"f":0,"p":0.1}]},"mark":{"type":"point","opacity":0},
   "encoding":{"x":{"field":"f","type":"quantitative","scale":{"domain":[0,20],"nice":false},"axis":{"orient":"top","values":[5,10,15],"labels":false,"tickSize":-13,"title":null}},
    "y":{"field":"p","type":"quantitative","scale":{"type":"log","domain":[0.001,1],"nice":false},"axis":{"orient":"left","values":[0.01,0.1],"labels":false,"tickSize":-29,"title":null}}}},
  {"data":{"values":[{"f":0,"p":0.1}]},"mark":{"type":"point","opacity":0},
   "encoding":{"x":{"field":"f","type":"quantitative","scale":{"domain":[0,20],"nice":false},"axis":null},
    "y":{"field":"p","type":"quantitative","scale":{"type":"log","domain":[0.001,1],"nice":false},"axis":{"orient":"right","values":[0.01,0.1],"labels":false,"tickSize":-28,"title":"(a)","titleAngle":0,"titleAlign":"left","titleBaseline":"middle","titlePadding":13,"titleFontSize":28}}}}
 ],
 "resolve":{"axis":{"x":"independent","y":"independent"}}
},
{"vconcat":[
 {"width":638,"height":150,
  "layer":[
   {"data":{"name":"ex"},"mark":{"type":"line","color":"#111111","strokeWidth":1.5,"clip":true},
    "encoding":{"x":{"field":"t","type":"quantitative","scale":{"domain":[0,15],"nice":false},"axis":{"orient":"bottom","values":[1,2,3,4,5,6,7,8,9,10,11,12,13,14],"labels":false,"tickSize":-5,"tickWidth":1.5,"title":null}},
     "y":{"field":"v","type":"quantitative","scale":{"domain":[-43,43],"nice":false},"axis":{"orient":"left","values":[-40,0,40],"ticks":false,"labelPadding":9,"labelFont":"Liberation Serif","title":"EX, mV/m","titleX":-68,"titleBaseline":"alphabetic"}}}},
   {"data":{"values":[{"t":0,"v":0}]},"mark":{"type":"point","opacity":0},
    "encoding":{"x":{"field":"t","type":"quantitative","scale":{"domain":[0,15],"nice":false},"axis":{"orient":"top","values":[1,2,3,4,5,6,7,8,9,10,11,12,13,14],"labels":false,"tickSize":-5,"tickWidth":1.5,"title":null}},
     "y":{"field":"v","type":"quantitative","scale":{"domain":[-43,43],"nice":false},"axis":{"orient":"left","values":[0],"labels":false,"tickSize":-24,"title":null}}}},
   {"data":{"values":[{"t":0,"v":0}]},"mark":{"type":"point","opacity":0},
    "encoding":{"x":{"field":"t","type":"quantitative","scale":{"domain":[0,15],"nice":false},"axis":null},
     "y":{"field":"v","type":"quantitative","scale":{"domain":[-43,43],"nice":false},"axis":{"orient":"left","values":[-40,-35,-30,-25,-20,-15,-10,-5,5,10,15,20,25,30,35,40],"labels":false,"tickSize":-8,"tickWidth":1.5,"title":null}}}},
   {"data":{"values":[{"t":0,"v":0}]},"mark":{"type":"point","opacity":0},
    "encoding":{"x":{"field":"t","type":"quantitative","scale":{"domain":[0,15],"nice":false},"axis":null},
     "y":{"field":"v","type":"quantitative","scale":{"domain":[-43,43],"nice":false},"axis":{"orient":"right","values":[0],"labels":false,"tickSize":-18,"title":"(b)","titleAngle":0,"titleAlign":"left","titleBaseline":"middle","titlePadding":13,"titleFontSize":28}}}},
   {"data":{"values":[{"t":0,"v":0}]},"mark":{"type":"point","opacity":0},
    "encoding":{"x":{"field":"t","type":"quantitative","scale":{"domain":[0,15],"nice":false},"axis":null},
     "y":{"field":"v","type":"quantitative","scale":{"domain":[-43,43],"nice":false},"axis":{"orient":"right","values":[-40,-35,-30,-25,-20,-15,-10,-5,5,10,15,20,25,30,35,40],"labels":false,"tickSize":-6,"tickWidth":1.5,"title":null}}}}
  ],
  "resolve":{"axis":{"x":"independent","y":"independent"}}
 },
 {"width":638,"height":150,
  "layer":[
   {"data":{"name":"by"},"mark":{"type":"line","color":"#111111","strokeWidth":1.5,"clip":true},
    "encoding":{"x":{"field":"t","type":"quantitative","scale":{"domain":[0,15],"nice":false},"axis":{"orient":"bottom","values":[1,2,3,4,5,6,7,8,9,10,11,12,13,14],"labels":false,"tickSize":-5,"tickWidth":1.5,"title":null}},
     "y":{"field":"v","type":"quantitative","scale":{"domain":[-46,46],"nice":false},"axis":{"orient":"left","values":[-40,0,40],"ticks":false,"labelPadding":9,"labelFont":"Liberation Serif","title":"BY, nT","titleX":-68,"titleBaseline":"alphabetic"}}}},
   {"data":{"values":[{"t":0,"v":0}]},"mark":{"type":"point","opacity":0},
    "encoding":{"x":{"field":"t","type":"quantitative","scale":{"domain":[0,15],"nice":false},"axis":{"orient":"top","values":[1,2,3,4,5,6,7,8,9,10,11,12,13,14],"labels":false,"tickSize":-5,"tickWidth":1.5,"title":null}},
     "y":{"field":"v","type":"quantitative","scale":{"domain":[-46,46],"nice":false},"axis":{"orient":"left","values":[0],"labels":false,"tickSize":-24,"title":null}}}},
   {"data":{"values":[{"t":0,"v":0}]},"mark":{"type":"point","opacity":0},
    "encoding":{"x":{"field":"t","type":"quantitative","scale":{"domain":[0,15],"nice":false},"axis":null},
     "y":{"field":"v","type":"quantitative","scale":{"domain":[-46,46],"nice":false},"axis":{"orient":"left","values":[-40,-35,-30,-25,-20,-15,-10,-5,5,10,15,20,25,30,35,40],"labels":false,"tickSize":-8,"tickWidth":1.5,"title":null}}}},
   {"data":{"values":[{"t":0,"v":0}]},"mark":{"type":"point","opacity":0},
    "encoding":{"x":{"field":"t","type":"quantitative","scale":{"domain":[0,15],"nice":false},"axis":null},
     "y":{"field":"v","type":"quantitative","scale":{"domain":[-46,46],"nice":false},"axis":{"orient":"right","values":[0],"labels":false,"tickSize":-18,"title":"(c)","titleAngle":0,"titleAlign":"left","titleBaseline":"middle","titlePadding":13,"titleFontSize":28}}}},
   {"data":{"values":[{"t":0,"v":0}]},"mark":{"type":"point","opacity":0},
    "encoding":{"x":{"field":"t","type":"quantitative","scale":{"domain":[0,15],"nice":false},"axis":null},
     "y":{"field":"v","type":"quantitative","scale":{"domain":[-46,46],"nice":false},"axis":{"orient":"right","values":[-40,-35,-30,-25,-20,-15,-10,-5,5,10,15,20,25,30,35,40],"labels":false,"tickSize":-6,"tickWidth":1.5,"title":null}}}}
  ],
  "resolve":{"axis":{"x":"independent","y":"independent"}}
 },
 {"width":638,"height":150,
  "layer":[
   {"data":{"name":"dn"},"mark":{"type":"line","color":"#111111","strokeWidth":1.5,"clip":true},
    "encoding":{"x":{"field":"t","type":"quantitative","scale":{"domain":[0,15],"nice":false},"axis":{"orient":"bottom","values":[0,5,10,15],"ticks":false,"labelPadding":5,"labelFont":"Liberation Serif","title":"TIME AFTER JUNE 1, 2022 AT 11:22:30 UT, sec","titlePadding":4}},
     "y":{"field":"v","type":"quantitative","scale":{"domain":[-0.109,0.109],"nice":false},"axis":{"orient":"left","values":[-0.1,0,0.1],"format":"~g","ticks":false,"labelPadding":9,"labelFont":"Liberation Serif","title":"Δn/n","titleFontSize":36,"titleX":-68,"titleBaseline":"alphabetic"}}}},
   {"data":{"values":[{"t":0,"v":0}]},"mark":{"type":"point","opacity":0},
    "encoding":{"x":{"field":"t","type":"quantitative","scale":{"domain":[0,15],"nice":false},"axis":{"orient":"top","values":[1,2,3,4,5,6,7,8,9,10,11,12,13,14],"labels":false,"tickSize":-5,"tickWidth":1.5,"title":null}},
     "y":{"field":"v","type":"quantitative","scale":{"domain":[-0.109,0.109],"nice":false},"axis":{"orient":"left","values":[0],"labels":false,"tickSize":-24,"title":null}}}},
   {"data":{"values":[{"t":0,"v":0}]},"mark":{"type":"point","opacity":0},
    "encoding":{"x":{"field":"t","type":"quantitative","scale":{"domain":[0,15],"nice":false},"axis":{"orient":"bottom","values":[1,2,3,4,6,7,8,9,11,12,13,14],"labels":false,"tickSize":-5,"tickWidth":1.5,"title":null}},
     "y":{"field":"v","type":"quantitative","scale":{"domain":[-0.109,0.109],"nice":false},"axis":{"orient":"left","values":[-0.1,-0.09,-0.08,-0.07,-0.06,-0.05,-0.04,-0.03,-0.02,-0.01,0.01,0.02,0.03,0.04,0.05,0.06,0.07,0.08,0.09,0.1],"labels":false,"tickSize":-8,"tickWidth":1.5,"title":null}}}},
   {"data":{"values":[{"t":0,"v":0}]},"mark":{"type":"point","opacity":0},
    "encoding":{"x":{"field":"t","type":"quantitative","scale":{"domain":[0,15],"nice":false},"axis":{"orient":"bottom","values":[5,10],"labels":false,"tickSize":-13,"title":null}},
     "y":{"field":"v","type":"quantitative","scale":{"domain":[-0.109,0.109],"nice":false},"axis":{"orient":"right","values":[0],"labels":false,"tickSize":-18,"title":"(d)","titleAngle":0,"titleAlign":"left","titleBaseline":"middle","titlePadding":13,"titleFontSize":28}}}},
   {"data":{"values":[{"t":0,"v":0}]},"mark":{"type":"point","opacity":0},
    "encoding":{"x":{"field":"t","type":"quantitative","scale":{"domain":[0,15],"nice":false},"axis":null},
     "y":{"field":"v","type":"quantitative","scale":{"domain":[-0.109,0.109],"nice":false},"axis":{"orient":"right","values":[-0.1,-0.09,-0.08,-0.07,-0.06,-0.05,-0.04,-0.03,-0.02,-0.01,0.01,0.02,0.03,0.04,0.05,0.06,0.07,0.08,0.09,0.1],"labels":false,"tickSize":-6,"tickWidth":1.5,"title":null}}}}
  ],
  "resolve":{"axis":{"x":"independent","y":"independent"}}
 }
 ],
 "spacing":6,
 "bounds":"flush"
}
],
"spacing":69,
"bounds":"flush"
}
